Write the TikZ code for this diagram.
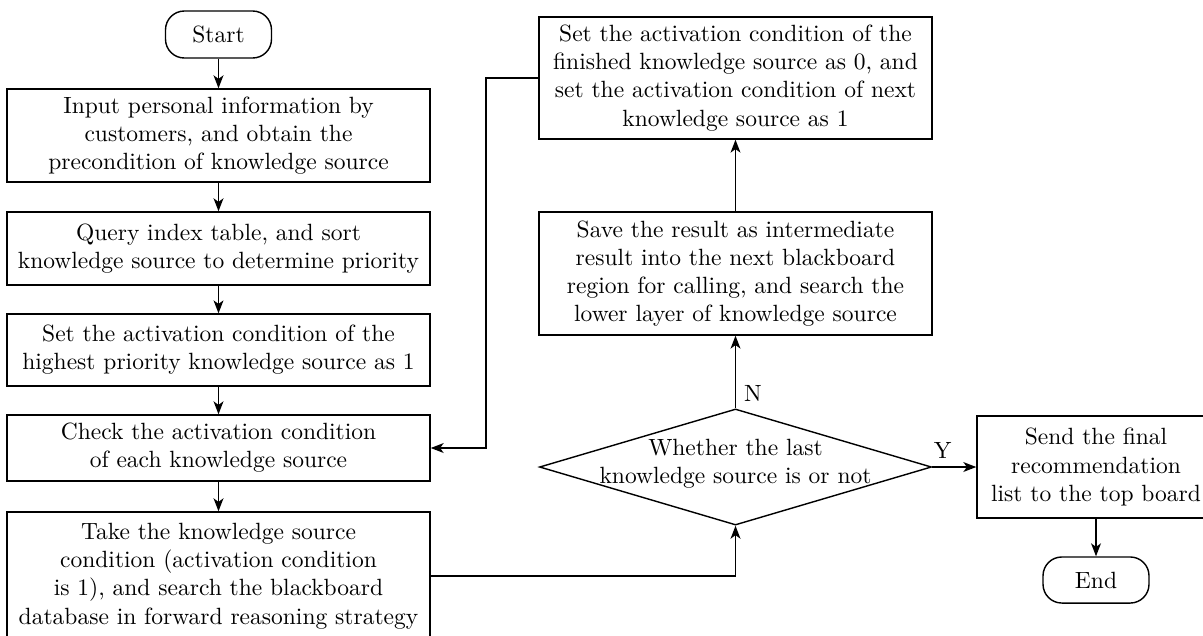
\documentclass[tikz,border=0pt]{standalone}
\usetikzlibrary{shapes.geometric,arrows.meta}
\begin{document}
\begin{tikzpicture}[x=0.4255pt,y=-0.4255pt, line width=0.6pt,
  box/.style={draw, rectangle, align=center, inner sep=2pt},
  term/.style={draw, rectangle, rounded corners=8pt, align=center, inner sep=2pt},
  arr/.style={-{Stealth[length=5.5pt,width=4.2pt,inset=1.5pt]}},
  lbl/.style={inner sep=3.33pt}]
\path[use as bounding box, clip] (0,0) rectangle (1203,635);

\node[term, minimum width=45.1pt, minimum height=20pt] (start) at (218.5,34.5) {Start};
\node[box, minimum width=180pt, minimum height=39.6pt] (b1) at (218.5,135.5)
  {Input personal information by\\customers, and obtain the\\precondition of knowledge source};
\node[box, minimum width=180pt, minimum height=31.1pt] (b2) at (218.5,248.5)
  {Query index table, and sort\\knowledge source to determine priority};
\node[box, minimum width=180pt, minimum height=30.6pt] (b3) at (218.5,350)
  {Set the activation condition of the\\highest priority knowledge source as 1};
\node[box, minimum width=180pt, minimum height=28.1pt] (b4) at (218.5,448)
  {Check the activation condition\\of each knowledge source};
\node[box, minimum width=180pt, minimum height=54.5pt] (b5) at (218.5,576)
  {Take the knowledge source\\condition (activation condition\\is 1), and search the blackboard\\database in forward reasoning strategy};

\node[box, minimum width=167.2pt, minimum height=51.9pt] (tr) at (735.5,78)
  {Set the activation condition of the\\finished knowledge source as 0, and\\set the activation condition of next\\knowledge source as 1};
\node[box, minimum width=167.2pt, minimum height=52.3pt] (mr) at (735.5,273.5)
  {Save the result as intermediate\\result into the next blackboard\\region for calling, and search the\\lower layer of knowledge source};
\node[draw, diamond, minimum width=166.8pt, minimum height=49.4pt, inner sep=0pt,
  label={[align=center,name=diatext,yshift=1.3pt]center:{Whether the last\\knowledge source is or not}}] (dia) at (735.5,467) {};
\node[box, minimum width=101.3pt, minimum height=43.4pt] (send) at (1096,467)
  {Send the final\\recommendation\\list to the top board};
\node[term, minimum width=45.1pt, minimum height=19.6pt] (end) at (1096,580) {End};

\coordinate (c1) at (486,78);

\draw[arr] (start) -- (b1);
\draw[arr] (b1) -- (b2);
\draw[arr] (b2) -- (b3);
\draw[arr] (b3) -- (b4);
\draw[arr] (b4) -- (b5);
\draw[arr] (b5.east) -| (dia.south);
\draw[arr] (dia.north) -- node[lbl, pos=0.2, right] (nlab) {N} (mr.south);
\draw[arr] (mr) -- (tr);
\draw[arr] (tr.west) -- (c1) |- (b4.east);
\draw[arr] (dia.east) -- node[lbl, pos=0.24, above] (ylab) {Y} (send.west);
\draw[arr] (send) -- (end);
\end{tikzpicture}
\end{document}
